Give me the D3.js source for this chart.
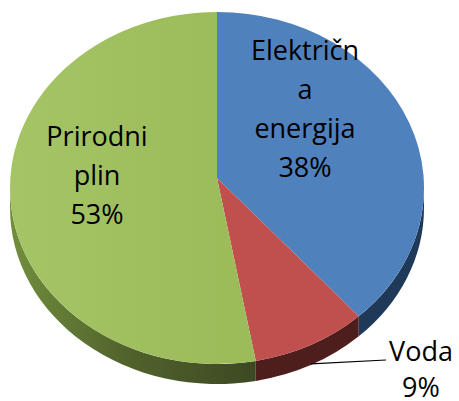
<!DOCTYPE html>
<html>
<head>
<meta charset="utf-8">
<script src="https://cdn.jsdelivr.net/npm/d3@7"></script>
<style>
  html,body{margin:0;padding:0;background:#fff;}
  text{font-family:"Open Sans","Noto Sans",sans-serif;fill:#000;}
</style>
</head>
<body>
<div id="pie1"></div>
<script>
// podaci
var categories = ["Električna energija", "Voda", "Prirodni plin"];
var values = [38, 9, 53];
var labelLines = [["Električn", "a", "energija"], ["Voda"], ["Prirodni", "plin"]];

var topColors  = ["#4F81BD", "#C0504D", "#9BBB59"];
var sideColors = ["#1F3A58", "#4E1E1D", "#44522A"];

var W = 459, H = 401;
var cx = 217, cy = 188, rx = 207, ry = 176, depth = 20;
var vx = 217, vy = 178;   // vrh kriski

var svg = d3.select("#pie1").append("svg").attr("width", W).attr("height", H);

var defs = svg.append("defs");
var g1 = defs.append("linearGradient").attr("id", "greenSide")
    .attr("gradientUnits", "userSpaceOnUse").attr("x1", 10).attr("y1", 0).attr("x2", 262).attr("y2", 0);
g1.append("stop").attr("offset", 0).attr("stop-color", "#718E3C");
g1.append("stop").attr("offset", 0.45).attr("stop-color", "#52632D");
g1.append("stop").attr("offset", 1).attr("stop-color", "#3C4722");
var g2 = defs.append("linearGradient").attr("id", "greenTop")
    .attr("gradientUnits", "userSpaceOnUse").attr("x1", 10).attr("y1", 0).attr("x2", 260).attr("y2", 0);
g2.append("stop").attr("offset", 0).attr("stop-color", "#A4C466");
g2.append("stop").attr("offset", 1).attr("stop-color", "#9BBB59");

var pie = d3.pie().sort(null).value(function(d){return d;});
var arcs = pie(values);

// kut mjeren od vrha u smjeru kazaljke
function pt(a, dy) {
  return [cx + rx * Math.sin(a), cy - ry * Math.cos(a) + (dy || 0)];
}

// bocne stranice (samo donja polovica elipse je vidljiva)
var sides = [];
arcs.forEach(function(a, i){
  var s = Math.max(a.startAngle, Math.PI / 2), e = Math.min(a.endAngle, Math.PI * 1.5);
  if (e > s) sides.push({i: i, s: s, e: e});
});

svg.selectAll("path.side").data(sides).enter().append("path")
  .attr("class", "side")
  .attr("fill", function(d){ return d.i == 2 ? "url(#greenSide)" : sideColors[d.i]; })
  .attr("d", function(d){
    var p0 = pt(d.s), p1 = pt(d.e), q1 = pt(d.e, depth), q0 = pt(d.s, depth);
    var large = (d.e - d.s) > Math.PI ? 1 : 0;
    return "M" + p0 + " A" + rx + " " + ry + " 0 " + large + " 1 " + p1 +
           " L" + q1 + " A" + rx + " " + ry + " 0 " + large + " 0 " + q0 + " Z";
  });

// gornja ploha
svg.selectAll("path.slice").data(arcs).enter().append("path")
  .attr("class", "slice")
  .attr("fill", function(d, i){ return i == 2 ? "url(#greenTop)" : topColors[i]; })
  .attr("d", function(d){
    var p0 = pt(d.startAngle), p1 = pt(d.endAngle);
    var large = (d.endAngle - d.startAngle) > Math.PI ? 1 : 0;
    return "M" + vx + "," + vy + " L" + p0 + " A" + rx + " " + ry + " 0 " + large + " 1 " + p1 + " Z";
  });

// oznake
var fs = 27, lh = 39;
var labelPos = [[305, 60], [421, 361], [97, 146]];
var total = d3.sum(values);

var labels = svg.selectAll("text.lbl").data(arcs).enter().append("text")
  .attr("class", "lbl")
  .attr("text-anchor", "middle")
  .style("font-size", fs + "px");

labels.each(function(d, i){
  var t = d3.select(this);
  var lines = labelLines[i].concat([Math.round(d.value / total * 100) + "%"]);
  lines.forEach(function(l, k){
    t.append("tspan").attr("x", labelPos[i][0]).attr("y", labelPos[i][1] + k * (i == 1 ? 36 : lh)).text(l);
  });
});

// linija za Voda
var mid = (arcs[1].startAngle + arcs[1].endAngle) / 2;
var lp = pt(mid, 19);
svg.append("path")
  .attr("d", "M" + lp + " L386,360")
  .attr("stroke", "#000").attr("stroke-width", 1.2).attr("fill", "none");
</script>
</body>
</html>
